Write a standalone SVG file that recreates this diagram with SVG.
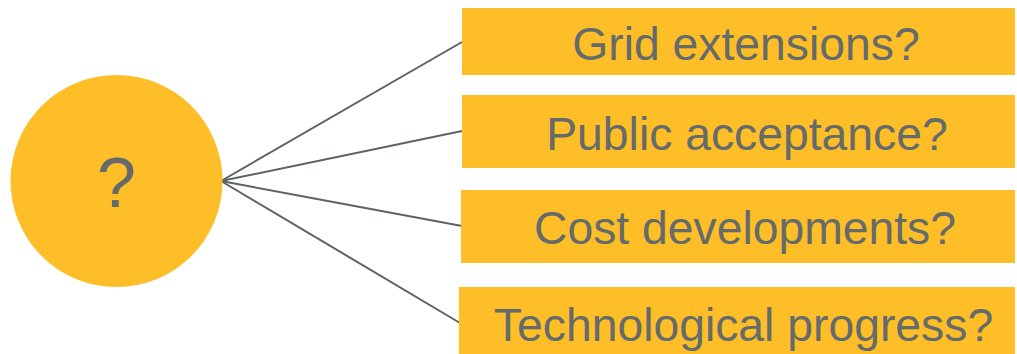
<svg xmlns="http://www.w3.org/2000/svg" width="1017" height="354" viewBox="0 0 1017 354">
<style>
.box{fill:#FDBE28}
.t{font-family:"Liberation Sans",Arial,sans-serif;font-size:46.3px;fill:#656A6A;text-anchor:middle}
.c{stroke:#5E6262;stroke-width:2;fill:none}
</style>
<rect width="1017" height="354" fill="#fff"/>
<g id="connectors">
<line class="c" x1="221" y1="181" x2="462" y2="42"/>
<line class="c" x1="221" y1="181" x2="462" y2="131"/>
<line class="c" x1="221" y1="181" x2="462" y2="226"/>
<line class="c" x1="221" y1="181" x2="460" y2="323"/>
</g>
<g id="center">
<circle class="box" cx="116.5" cy="181" r="106"/>
<text class="t" x="116.5" y="207" style="font-size:70px">?</text>
</g>
<g id="grid">
<rect class="box" x="462" y="8" width="553" height="67"/>
<text class="t" x="746" y="60">Grid extensions?</text>
</g>
<g id="public">
<rect class="box" x="462" y="95" width="553" height="73"/>
<text class="t" x="747" y="150">Public acceptance?</text>
</g>
<g id="cost">
<rect class="box" x="461" y="190" width="554" height="73"/>
<text class="t" x="745" y="244">Cost developments?</text>
</g>
<g id="tech">
<rect class="box" x="459" y="287" width="556" height="67"/>
<text class="t" x="743.5" y="341">Technological progress?</text>
</g>
</svg>
